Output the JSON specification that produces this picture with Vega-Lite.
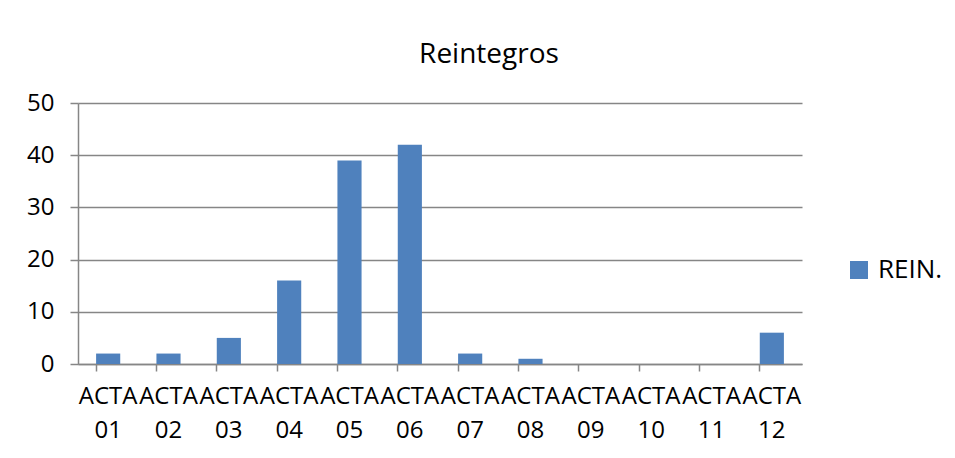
{
  "$schema": "https://vega.github.io/schema/vega-lite/v6.json",
  "autosize": {"type": "none"},
  "width": 724,
  "height": 261,
  "padding": {"left": 78, "top": 103, "right": 153, "bottom": 94},
  "background": "white",
  "title": {
    "text": "Reintegros",
    "font": "Open Sans",
    "fontSize": 28,
    "fontWeight": "normal",
    "color": "#000000",
    "anchor": "middle",
    "frame": "group",
    "dx": 49,
    "offset": 22
  },
  "data": {
    "values": [
      {"acta": "ACTA 01", "valor": 2, "serie": "REIN."},
      {"acta": "ACTA 02", "valor": 2, "serie": "REIN."},
      {"acta": "ACTA 03", "valor": 5, "serie": "REIN."},
      {"acta": "ACTA 04", "valor": 16, "serie": "REIN."},
      {"acta": "ACTA 05", "valor": 39, "serie": "REIN."},
      {"acta": "ACTA 06", "valor": 42, "serie": "REIN."},
      {"acta": "ACTA 07", "valor": 2, "serie": "REIN."},
      {"acta": "ACTA 08", "valor": 1, "serie": "REIN."},
      {"acta": "ACTA 09", "valor": 0, "serie": "REIN."},
      {"acta": "ACTA 10", "valor": 0, "serie": "REIN."},
      {"acta": "ACTA 11", "valor": 0, "serie": "REIN."},
      {"acta": "ACTA 12", "valor": 6, "serie": "REIN."}
    ]
  },
  "mark": {"type": "bar"},
  "encoding": {
    "x": {
      "field": "acta",
      "type": "nominal",
      "sort": null,
      "scale": {"paddingInner": 0.6, "paddingOuter": 0.3},
      "axis": {
        "title": null,
        "labelAngle": 0,
        "labelExpr": "split(datum.label, ' ')",
        "labelFont": "Open Sans",
        "labelFontSize": 24,
        "labelColor": "#000000",
        "labelLineHeight": 34,
        "labelPadding": 13,
        "labelBaseline": "top",
        "bandPosition": 0,
        "tickSize": 7,
        "tickColor": "#868686",
        "domainColor": "#868686",
        "domainWidth": 1.5,
        "tickWidth": 1.5,
        "grid": false
      }
    },
    "y": {
      "field": "valor",
      "type": "quantitative",
      "scale": {"domain": [0, 50]},
      "axis": {
        "title": null,
        "values": [0, 10, 20, 30, 40, 50],
        "labelFont": "Open Sans",
        "labelFontSize": 24,
        "labelColor": "#000000",
        "labelPadding": 16,
        "tickSize": 8,
        "tickColor": "#868686",
        "tickWidth": 1.5,
        "domainColor": "#868686",
        "domainWidth": 1.5,
        "grid": true,
        "gridColor": "#868686",
        "gridWidth": 1.5
      }
    },
    "color": {
      "field": "serie",
      "type": "nominal",
      "scale": {"range": ["#4F81BD"]},
      "legend": {
        "title": null,
        "orient": "none",
        "legendX": 768,
        "legendY": 154,
        "symbolType": "square",
        "symbolSize": 324,
        "symbolStrokeWidth": 0,
        "symbolOpacity": 1,
        "labelFont": "Open Sans",
        "labelFontSize": 26,
        "labelColor": "#000000",
        "labelOffset": 6
      }
    }
  },
  "config": {
    "view": {"stroke": null}
  }
}
